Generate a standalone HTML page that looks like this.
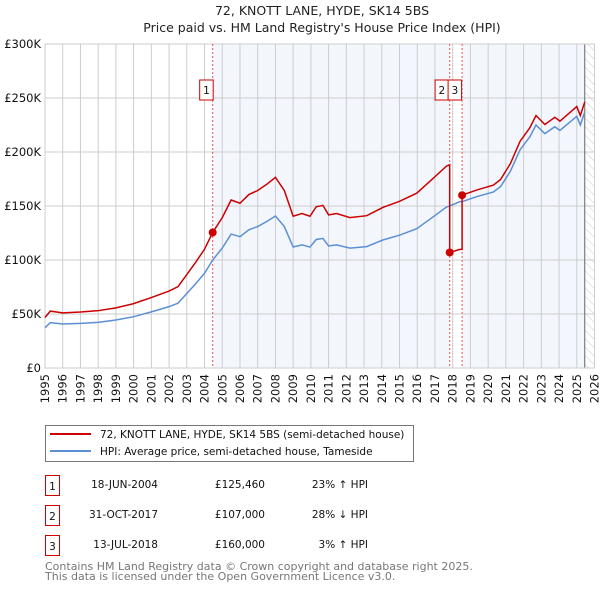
<!DOCTYPE html>
<html><head><meta charset="utf-8"><style>
body{margin:0;background:#fff;}
svg{display:block;font-family:"DejaVu Sans","Liberation Sans",sans-serif;}
</style></head><body>
<svg id="c" width="600" height="590" viewBox="0 0 600 590">
<text x="322" y="15" text-anchor="middle" font-size="12.5" fill="#222">72, KNOTT LANE, HYDE, SK14 5BS</text>
<text x="322" y="32" text-anchor="middle" font-size="12.5" fill="#222">Price paid vs. HM Land Registry's House Price Index (HPI)</text>
<defs><pattern id="hatch" width="6" height="6" patternUnits="userSpaceOnUse" patternTransform="rotate(-45)"><line x1="0" y1="0" x2="0" y2="6" stroke="#ccc" stroke-width="1"/></pattern></defs>
<g id="plot"></g>
<g>
<rect x="45.5" y="425.5" width="368" height="36" fill="#fff" stroke="#777"/>
<line x1="50" y1="434" x2="91" y2="434" stroke="#cc0000" stroke-width="2"/>
<text x="100" y="438" font-size="10.5" fill="#111">72, KNOTT LANE, HYDE, SK14 5BS (semi-detached house)</text>
<line x1="50" y1="451" x2="91" y2="451" stroke="#5b8fd4" stroke-width="2"/>
<text x="100" y="455" font-size="10.5" fill="#111">HPI: Average price, semi-detached house, Tameside</text>
</g>
<g font-size="10.5" fill="#111">
<rect x="45.5" y="475.5" width="14" height="20" fill="#fff" stroke="#cc0000"/><text x="52.5" y="490" text-anchor="middle">1</text>
<text x="158" y="488" text-anchor="end">18-JUN-2004</text><text x="265" y="488" text-anchor="end">£125,460</text><text x="368" y="488" text-anchor="end">23% ↑ HPI</text>
<rect x="45.5" y="505.5" width="14" height="20" fill="#fff" stroke="#cc0000"/><text x="52.5" y="520" text-anchor="middle">2</text>
<text x="158" y="518" text-anchor="end">31-OCT-2017</text><text x="265" y="518" text-anchor="end">£107,000</text><text x="368" y="518" text-anchor="end">28% ↓ HPI</text>
<rect x="45.5" y="535.5" width="14" height="20" fill="#fff" stroke="#cc0000"/><text x="52.5" y="550" text-anchor="middle">3</text>
<text x="158" y="548" text-anchor="end">13-JUL-2018</text><text x="265" y="548" text-anchor="end">£160,000</text><text x="368" y="548" text-anchor="end">3% ↑ HPI</text>
</g>
<text x="45" y="570" font-size="11" fill="#777">Contains HM Land Registry data © Crown copyright and database right 2025.</text>
<text x="45" y="580" font-size="11" fill="#777">This data is licensed under the Open Government Licence v3.0.</text>
</svg>
<script>
const hpiYears=[1995.0,1995.3,1996,1997,1998,1999,2000,2001,2002,2002.5,2003,2003.5,2004,2004.46,2005,2005.5,2006,2006.5,2007,2007.5,2008,2008.5,2009,2009.5,2009.95,2010.3,2010.68,2011.0,2011.45,2012.2,2013.15,2014.06,2015,2015.97,2016.9,2017.65,2017.83,2018.4,2018.53,2019.35,2020.3,2020.7,2021.25,2021.8,2022.35,2022.7,2023.2,2023.76,2024.05,2025.0,2025.2,2025.45];
const hpiValues=[37.3,42,40.7,41.3,42.3,44.4,47.5,52,56.8,60,69,78,87.7,100,111,124,121.6,128,131,135.5,140.7,131,112,114,112,119,120,113,114,111,112.4,118.5,123,129,140,149,150,154,154,158.6,163,168,182,202,214,225,217,223.4,220,233,225,237];
const saleYears=[2004.46,2017.83,2018.53];
const salePrices=[125.46,107,160];
const yTicks=[0,50,100,150,200,250,300];
const yLabels=["£0","£50K","£100K","£150K","£200K","£250K","£300K"];
const xTicks=[1995,1996,1997,1998,1999,2000,2001,2002,2003,2004,2005,2006,2007,2008,2009,2010,2011,2012,2013,2014,2015,2016,2017,2018,2019,2020,2021,2022,2023,2024,2025,2026];

const L=45,R=594.5,T=44,B=368,dataEnd=2025.45;
const X=y=>L+(y-1995)/(2026-1995)*(R-L);
const Y=v=>B-v/300*(B-T);
const NS="http://www.w3.org/2000/svg";
const g=document.getElementById('plot');
function mk(t,a){const e=document.createElementNS(NS,t);for(const k in a)e.setAttribute(k,a[k]);g.appendChild(e);return e;}
function hpiAt(t){for(let i=1;i<hpiYears.length;i++){if(t<=hpiYears[i]){const f=(t-hpiYears[i-1])/(hpiYears[i]-hpiYears[i-1]);return hpiValues[i-1]+f*(hpiValues[i]-hpiValues[i-1]);}}return hpiValues[hpiValues.length-1];}

let e;
e=mk('rect',{x:L,y:T,width:R-L,height:B-T,fill:'#fff'});


e=mk('rect',{x:X(saleYears[0]),y:T,width:X(saleYears[1])-X(saleYears[0]),height:B-T,fill:'#eef3fc',opacity:0.7});


e=mk('rect',{x:X(saleYears[2]),y:T,width:X(dataEnd)-X(saleYears[2]),height:B-T,fill:'#eef3fc',opacity:0.7});


e=mk('rect',{x:X(dataEnd),y:T,width:R-X(dataEnd),height:B-T,fill:'url(#hatch)'});


xTicks.forEach(t=>{
 e=mk('line',{x1:X(t),x2:X(t),y1:T,y2:B,stroke:'#ccc','stroke-width':1});
 
 
 const tx=X(t)+4, ty=B+6;
 e=mk('text',{x:tx,y:ty,'text-anchor':'end','font-size':'11.5',fill:'#111',transform:`rotate(-90 ${tx} ${ty})`});e.textContent=t;
 
 
});
yTicks.forEach((t,i)=>{
 e=mk('line',{x1:L,x2:R,y1:Y(t),y2:Y(t),stroke:'#ccc','stroke-width':1});
 
 
 e=mk('text',{x:L-4,y:Y(t)+4,'text-anchor':'end','font-size':'11.5',fill:'#111'});e.textContent=yLabels[i];
 
 
});
e=mk('line',{x1:X(dataEnd),x2:X(dataEnd),y1:T,y2:B,stroke:'#666','stroke-width':1});


e=mk('rect',{x:L,y:T,width:R-L,height:B-T,fill:'none',stroke:'#ccc'});


saleYears.forEach((s,i)=>{
 e=mk('line',{x1:X(s),x2:X(s),y1:T,y2:B,stroke:'#e55','stroke-width':1,'stroke-dasharray':'2,2'});
 
 
});
e=mk('polyline',{points:hpiYears.map((t,i)=>X(t)+','+Y(hpiValues[i])).join(' '),fill:'none',stroke:'#5b8fd4','stroke-width':1.5});


const ratios=saleYears.map((s,i)=>salePrices[i]/hpiAt(s));
const pts=[];
function ratioAt(t){let r=ratios[0];saleYears.forEach((s,i)=>{if(t>=s)r=ratios[i];});return r;}
const all=hpiYears.concat(saleYears).sort((a,b)=>a-b);
all.forEach(t=>{
 saleYears.forEach((s,i)=>{if(Math.abs(t-s)<1e-9&&i>0)pts.push(X(t)+','+Y(hpiAt(t)*ratios[i-1]));});
 pts.push(X(t)+','+Y(hpiAt(t)*ratioAt(t)));
});
e=mk('polyline',{points:pts.join(' '),fill:'none',stroke:'#cc0000','stroke-width':1.5});


saleYears.forEach((s,i)=>{
 e=mk('circle',{cx:X(s),cy:Y(salePrices[i]),r:4,fill:'#cc0000'});
 
 
});
saleYears.forEach((s,i)=>{
 e=mk('rect',{x:(i===0?X(s)-13:(i===1?X(saleYears[2])-27:X(saleYears[2])-14)),y:80,width:13.5,height:20,fill:'#fff',stroke:'#cc0000'});
 
 
 e=mk('text',{x:(i===0?X(s)-6.2:(i===1?X(saleYears[2])-20.2:X(saleYears[2])-7.2)),y:94,'text-anchor':'middle','font-size':'10.5',fill:'#111'});e.textContent=i+1;
 
 
});
</script>
</body></html>
